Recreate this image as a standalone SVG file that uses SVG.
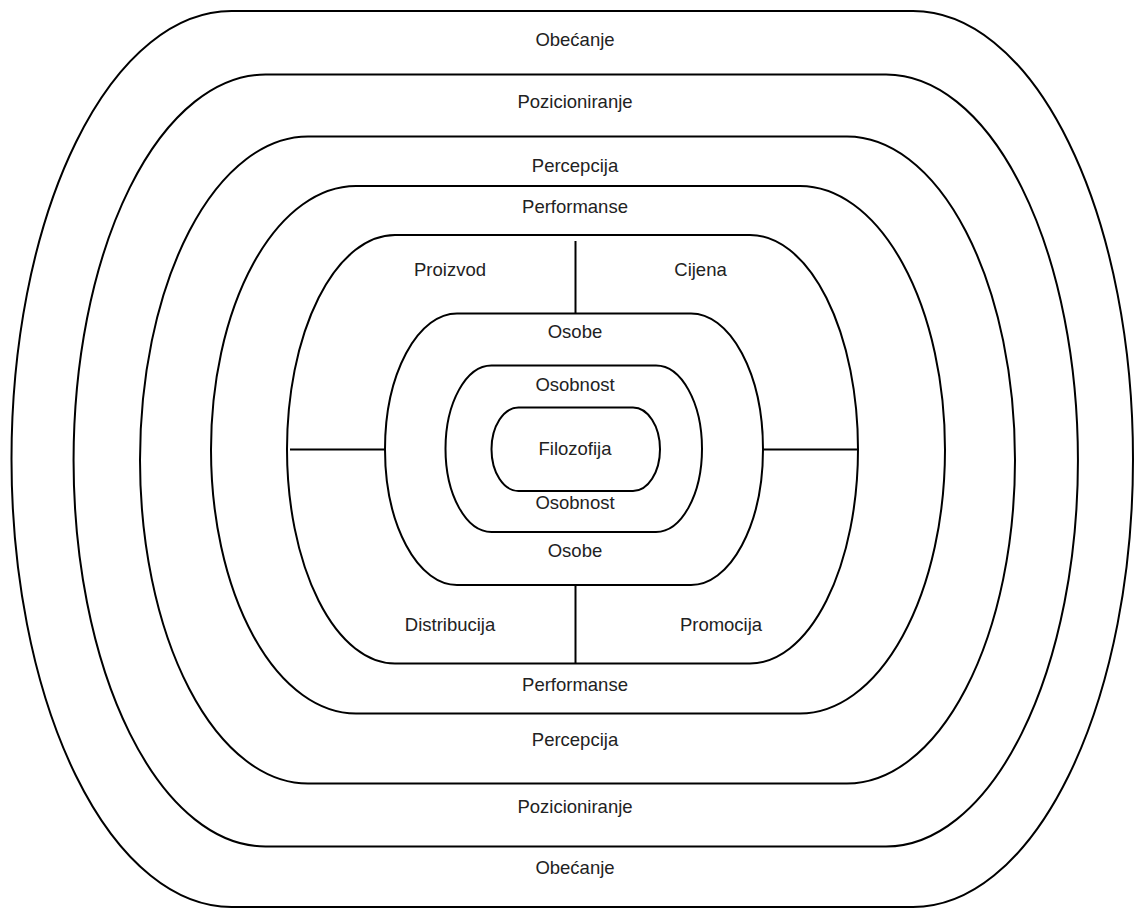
<svg xmlns="http://www.w3.org/2000/svg" width="1135" height="908" viewBox="0 0 1135 908">
<style>
.ring{fill:none;stroke:#000;stroke-width:2}
.div{fill:none;stroke:#000;stroke-width:2}
text{font-family:"Liberation Sans",Arial,sans-serif;font-size:18.5px;fill:#222;text-anchor:middle}
</style>
<rect width="1135" height="908" fill="#fff"/>
<g id="obecanje">
<path class="ring" d="M231.5,11 H913 A220 448 0 0 1 913,907 H231.5 A220 448 0 0 1 231.5,11 Z"/>
<text x="575" y="46">Obećanje</text>
<text x="575" y="874">Obećanje</text>
</g>
<g id="pozicioniranje">
<path class="ring" d="M265.5,74.5 H886 A192 386 0 0 1 886,846.5 H265.5 A192 386 0 0 1 265.5,74.5 Z"/>
<text x="575" y="108">Pozicioniranje</text>
<text x="575" y="812.5">Pozicioniranje</text>
</g>
<g id="percepcija">
<path class="ring" d="M308,136.5 H847 A168 323.5 0 0 1 847,783.5 H308 A168 323.5 0 0 1 308,136.5 Z"/>
<text x="575" y="172">Percepcija</text>
<text x="575" y="746">Percepcija</text>
</g>
<g id="performanse">
<path class="ring" d="M356,186 H800 A145 263.75 0 0 1 800,713.5 H356 A145 263.75 0 0 1 356,186 Z"/>
<text x="575" y="213">Performanse</text>
<text x="575" y="691">Performanse</text>
</g>
<g id="marketing-mix">
<path class="ring" d="M395,235 H750 A108 214.25 0 0 1 750,663.5 H395 A108 214.25 0 0 1 395,235 Z"/>
<text x="450" y="276">Proizvod</text>
<text x="700.5" y="276">Cijena</text>
<text x="450" y="631">Distribucija</text>
<text x="721" y="631">Promocija</text>
</g>
<g id="osobe">
<path class="ring" d="M457,313.5 H691 A72 135.75 0 0 1 691,585 H457 A72 135.75 0 0 1 457,313.5 Z"/>
<text x="575" y="338">Osobe</text>
<text x="575" y="557">Osobe</text>
</g>
<g id="osobnost">
<path class="ring" d="M491.5,365.5 H656 A46 83.25 0 0 1 656,532 H491.5 A46 83.25 0 0 1 491.5,365.5 Z"/>
<text x="575" y="391">Osobnost</text>
<text x="575" y="509">Osobnost</text>
</g>
<g id="filozofija">
<path class="ring" d="M518.5,407.5 H633 A27 41.75 0 0 1 633,491 H518.5 A27 41.75 0 0 1 518.5,407.5 Z"/>
<text x="575" y="454.5">Filozofija</text>
</g>
<g id="connectors">
<path class="div" d="M575.5,241 V313.5"/>
<path class="div" d="M575.5,585 V663.5"/>
<path class="div" d="M290,449.5 H385"/>
<path class="div" d="M763,449.5 H857"/>
</g>
</svg>
